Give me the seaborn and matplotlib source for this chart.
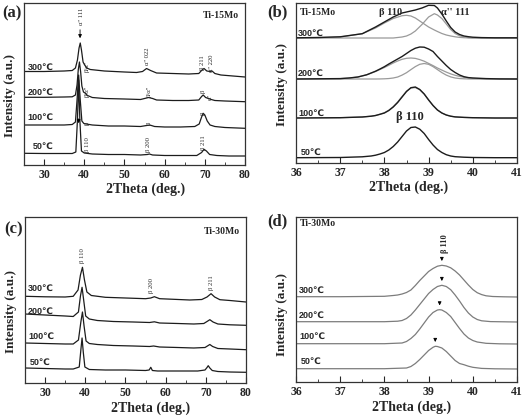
import numpy as np
import seaborn as sns
import matplotlib
matplotlib.use("Agg")
import matplotlib.pyplot as plt
from matplotlib.ticker import MultipleLocator

sns.set_style("ticks")
plt.rcParams["font.family"] = ["Liberation Serif", "DejaVu Serif"]
plt.rcParams["font.weight"] = "bold"
plt.rcParams["axes.labelweight"] = "bold"

temps = ["300℃", "200℃", "100℃", "50℃"]
SANS = ["Liberation Sans", "DejaVu Sans"]

# (a) Ti-15Mo, 25-80 deg scan
a_x_300 = [25, 30, 35, 37, 37.8, 38.3, 38.7, 39.0, 39.3, 39.7, 40.1, 40.6, 41.5, 45, 50, 53,
           54.5, 55.5, 56.5, 58, 62, 66, 68.5, 69.3, 69.8, 70.5, 71.3, 71.8, 72.5, 74, 77, 80]
a_y_300 = [5.5, 5.5, 6, 6.5, 9, 17, 29, 34, 27, 15, 12, 9, 7.5, 6, 5, 4.5,
           5.5, 8.5, 6.5, 4, 3.5, 3, 3.5, 7, 8.5, 6, 5.5, 6, 3.5, 2, 1, 0]
a_x_200 = [25, 30, 35, 37, 37.8, 38.2, 38.5, 38.8, 39.1, 39.4, 39.8, 40.2, 40.8, 42, 45, 50,
           54, 55, 56, 57, 58, 62, 66, 68.5, 69.2, 69.6, 70.2, 70.9, 71.6, 72.5, 75, 80]
a_y_200 = [4.7, 4.7, 5, 5.2, 7, 17, 32, 40, 30, 16, 10, 9, 6.5, 4.5, 3.5, 3,
           2.5, 3.5, 4.5, 3.5, 2, 1.5, 1.5, 2, 5.5, 7, 4.5, 3.5, 2.5, 1.5, 1, 0.3]
a_x_100 = [25, 30, 35, 37, 37.8, 38.2, 38.6, 39.0, 39.4, 39.9, 40.5, 42, 46, 50, 54,
           55.5, 56.3, 57.5, 60, 64, 67.5, 68.6, 69.2, 69.6, 70.0, 70.6, 71.3, 72.5, 75, 80]
a_y_100 = [4, 4, 4, 4.5, 7, 29, 54, 29, 8, 5.5, 5, 4, 3, 3, 2.5,
           3.5, 4, 2.5, 2, 2, 2.5, 5, 12, 15.7, 14, 8, 4, 2.5, 1.5, 0.7]
a_x_50 = [25, 30, 35, 37, 37.9, 38.3, 38.6, 38.9, 39.3, 40, 42, 46, 50, 54,
          55.7, 56.2, 57, 60, 64, 68, 69.2, 69.8, 70.4, 71.2, 73, 76, 80]
a_y_50 = [3.7, 3.5, 3.5, 3.5, 5, 37, 77, 37, 6, 4, 3, 2.5, 2.5, 2,
          2.5, 3, 2, 1.5, 1.5, 1.5, 4.5, 7.7, 6, 2.5, 1.5, 1, 1]
a_offsets = [88, 63, 36, 8]

# (b) Ti-15Mo, beta 110 / alpha'' 111 region with fitted components
b_x_300 = [36, 36.5, 37, 37.5, 37.8, 38.0, 38.2, 38.4, 38.5, 38.6, 38.7, 38.85, 39.0,
           39.13, 39.2, 39.3, 39.4, 39.5, 39.6, 39.7, 39.8, 39.9, 40.0, 40.2, 40.5, 41]
b_y_300 = [0.2, 0.5, 1.2, 4.3, 11, 16, 21, 25, 26, 27, 28, 30, 32.7,
           32.5, 30, 24, 17, 10.5, 6, 3.5, 2, 1.3, 0.8, 0.4, 0.2, 0.2]
b_fit1_300 = [0, 0.3, 1, 4.3, 10, 15, 19.5, 22.3, 22.7, 22, 20, 15.5, 11,
              8, 6.5, 4.5, 3, 2, 1.2, 0.6, 0.3, 0.1, 0, 0, 0, 0]
b_fit2_300 = [0, 0, 0, 0, 0, 0, 0, 1, 2, 4, 7, 13.5, 21,
              24.3, 23, 19.5, 14, 8.5, 4.5, 2.2, 1, 0.4, 0.1, 0, 0, 0]
b_x_200 = [36, 37, 37.2, 37.4, 37.6, 37.8, 37.9, 38.0, 38.1, 38.2, 38.3, 38.4, 38.5, 38.6,
           38.7, 38.8, 38.9, 39.0, 39.1, 39.2, 39.3, 39.4, 39.5, 39.6, 39.7, 39.8, 39.9,
           40.0, 40.3, 40.6, 41]
b_y_200 = [0, 0.4, 1, 2, 4.2, 7.8, 10, 12.3, 15, 17.5, 20, 22.5, 25.5, 28.5,
           30.8, 32, 31.8, 30, 27.5, 22.5, 18, 13.5, 9.5, 6.5, 4, 2.3, 1.4,
           1, 0.4, 0.1, 0]
b_fit1_200 = [0, 0.35, 0.9, 2, 4.3, 7.5, 9.5, 11.5, 13.7, 16, 18, 19.7, 20.7, 21,
              20.6, 19.4, 17.8, 15.6, 13.4, 11, 8.9, 6.9, 5.1, 3.7, 2.6, 1.7, 1.1,
              0.7, 0.15, 0, 0]
b_fit2_200 = [0, 0, 0, 0, 0, 0, 0.06, 0.2, 0.45, 1, 2, 3.9, 6.3, 9.4,
              12.4, 14.7, 15.5, 14.7, 12.4, 9.4, 6.4, 3.9, 2.1, 1, 0.45, 0.2, 0.06,
              0, 0, 0, 0]
b_x_100 = [36, 37, 37.5, 37.7, 37.8, 37.9, 38.0, 38.1, 38.2, 38.3, 38.4, 38.5, 38.6, 38.7,
           38.8, 38.9, 39.0, 39.1, 39.2, 39.3, 39.4, 39.5, 39.6, 39.8, 40.0, 40.5, 41]
b_y_100 = [0, 0.3, 1, 1.8, 2.5, 3.7, 5, 7.5, 11, 15.5, 21, 26.5, 30.3, 31,
           28.5, 24, 18, 12.5, 8, 5, 3, 1.8, 1.1, 0.6, 0.3, 0, 0]
b_fit_100 = [0, 0.3, 1, 1.8, 2.5, 3.8, 5.3, 7.8, 11.4, 16, 21.5, 26.8, 30, 30.4,
             28.3, 24, 18.2, 12.6, 8, 5, 3, 1.8, 1.1, 0.6, 0.3, 0, 0]
b_x_50 = b_x_100
b_y_50 = [0.3, 0.5, 1.2, 2, 2.8, 4, 5.5, 8, 11.5, 16, 21.5, 27, 30.5, 31,
          28.8, 24.5, 18.5, 13, 8.5, 5.5, 3.3, 2, 1.3, 0.8, 0.5, 0.3, 0.3]
b_offsets = [125, 84, 45, 5]

# (c) Ti-30Mo, 25-80 deg scan
c_x_300 = [25, 30, 35, 37, 38.2, 38.8, 39.3, 39.8, 40.4, 41.5, 45, 50, 55, 56.3, 57.2,
           58.5, 62, 66, 69, 70.3, 71.3, 72.2, 73.5, 76, 80]
c_y_300 = [5.7, 5.2, 5, 5.7, 12, 27, 34.7, 22, 10, 6.5, 4.7, 4, 3.3, 4, 5.3,
           3.3, 2.7, 2, 2.5, 5, 8.3, 5, 2.3, 1.5, 0]
c_x_200 = [25, 30, 35, 37, 38.3, 38.8, 39.2, 39.6, 40.1, 41, 43, 47, 52, 56, 57.2,
           58.5, 63, 67, 69.5, 70.3, 71.0, 71.8, 73, 76, 80]
c_y_200 = [12, 11, 10, 9.5, 14, 30, 38.7, 26, 10, 7, 5.5, 4.5, 4, 3.5, 4.2,
           3, 2.5, 2, 2.5, 4.5, 6.3, 4, 2, 1.2, 0.7]
c_x_100 = [25, 30, 35, 37, 38.3, 38.9, 39.3, 39.7, 40.2, 41, 43, 47, 52, 56, 57,
           58.5, 63, 67, 69.8, 70.4, 71.0, 71.7, 73, 76, 80]
c_y_100 = [7, 6.5, 6, 6, 10, 28, 38, 24, 9, 6.5, 5.5, 4.5, 4, 3.5, 4,
           3, 2.5, 2, 2.5, 4, 5.5, 3.5, 1.5, 1, 0.3]
c_x_50 = [25, 30, 35, 37, 38.5, 38.9, 39.2, 39.5, 39.9, 41, 45, 50, 55, 55.9, 56.3,
          56.7, 58, 63, 68, 69.8, 70.3, 70.6, 71.0, 71.6, 73, 76, 80]
c_y_50 = [5, 4.5, 4, 4, 6, 23, 35, 21, 6, 3.5, 3, 3, 2.5, 3, 5.7,
          2.5, 2, 2, 2, 3, 5.5, 7.3, 5, 2.5, 1.5, 1, 0.7]
c_offsets = [81, 57, 33, 10]

# (d) Ti-30Mo, beta 110 region
d_x_300 = [36, 37, 38.0, 38.2, 38.3, 38.4, 38.5, 38.6, 38.7, 38.8, 38.9, 39.0, 39.1, 39.2,
           39.3, 39.4, 39.5, 39.6, 39.7, 39.8, 39.9, 40.0, 40.1, 40.2, 40.3, 40.45, 40.7, 41]
d_y_300 = [0.3, 0.3, 0.7, 1.5, 2, 3, 4.5, 7, 11.5, 16.5, 21, 25.5, 28.5, 30.8,
           31.7, 31, 29.2, 26, 22, 17, 12, 7.5, 4.3, 2.4, 1.2, 0.5, 0.2, 0]
d_x_200 = [36, 37, 38.0, 38.3, 38.4, 38.5, 38.6, 38.7, 38.8, 38.9, 39.0, 39.1, 39.2, 39.3,
           39.4, 39.5, 39.6, 39.7, 39.8, 39.9, 40.0, 40.1, 40.2, 40.4, 41]
d_y_200 = [0.3, 0.3, 0.3, 0.8, 1.5, 3.5, 7, 12, 17.5, 23, 28.5, 32.5, 35.5, 36.7,
           35.5, 32.3, 27, 21, 14.5, 9, 5, 2.5, 1.2, 0.4, 0]
d_x_100 = [36, 37, 38.0, 38.4, 38.5, 38.6, 38.7, 38.8, 38.9, 39.0, 39.1, 39.2, 39.25, 39.3,
           39.4, 39.5, 39.6, 39.7, 39.8, 39.9, 40.0, 40.1, 40.3, 40.6, 41]
d_y_100 = [0.3, 0.3, 0.3, 1, 2.5, 5.5, 9.5, 15, 21, 27, 31.5, 34, 34.3, 34,
           31.5, 27.5, 21.5, 15.5, 10, 6, 3.5, 2, 0.7, 0.2, 0]
d_x_50 = [36, 37, 38.0, 38.5, 38.6, 38.7, 38.8, 38.9, 39.0, 39.1, 39.15, 39.2, 39.3, 39.4,
          39.5, 39.6, 39.7, 39.8, 39.9, 40.0, 40.2, 40.5, 41]
d_y_50 = [0.3, 0.3, 0.3, 1, 2.5, 5.5, 9.5, 14, 18.5, 21.7, 22.7, 22.5, 21, 17.5,
          13, 8.5, 5.5, 4.3, 2.8, 1.7, 0.6, 0.2, 0]
d_offsets = [85, 60, 38, 13]

BLACK = "#1c1c1c"
GRAY = "#9a9a9a"

W, H = 524, 416
fig = plt.figure(figsize=(W / 100, H / 100), dpi=100)


def px_axes(left, top, right, bottom):
    return fig.add_axes([left / W, 1 - bottom / H, (right - left) / W, (bottom - top) / H])


def style(ax, xlim, ylim, major, minor, xl_x, yl_y):
    ax.set_xlim(*xlim)
    ax.set_ylim(*ylim)
    ax.xaxis.set_major_locator(MultipleLocator(major))
    ax.xaxis.set_minor_locator(MultipleLocator(minor))
    ax.set_yticks([])
    ax.tick_params(axis="x", which="both", direction="in", top=False, labelsize=8.5, pad=3)
    ax.tick_params(axis="x", which="major", length=4, width=0.8)
    ax.tick_params(axis="x", which="minor", length=2, width=0.6)
    for s in ax.spines.values():
        s.set_linewidth(0.9)
        s.set_color("#333333")
    ax.set_xlabel("2Theta (deg.)", fontsize=10)
    ax.set_ylabel("Intensity (a.u.)", fontsize=9.5)
    ax.xaxis.set_label_coords(xl_x, -0.11)
    ax.yaxis.set_label_coords(-0.035, yl_y)


def draw(ax, x, y, off, color=BLACK, lw=0.9):
    sns.lineplot(x=x, y=np.asarray(y) + off, ax=ax, color=color, lw=lw,
                 estimator=None, sort=False)


def temp_labels(ax, xs, ys):
    for t, x, y in zip(temps, xs, ys):
        ax.text(x, y, t, fontsize=6.5, family=SANS, va="center", ha="left")


def vlabel(ax, x, y, s, size=4.8, weight="normal"):
    ax.text(x, y, s, rotation=90, fontsize=size, fontweight=weight, ha="center", va="bottom")


# ---- (a)
ax = px_axes(24, 3, 245, 165)
for xs, ys, off in zip([a_x_300, a_x_200, a_x_100, a_x_50],
                       [a_y_300, a_y_200, a_y_100, a_y_50], a_offsets):
    draw(ax, xs, ys, off)
style(ax, (25, 80), (0, 162), 10, 5, 0.55, 0.43)
temp_labels(ax, [25.9, 25.9, 25.9, 27.2], [98, 73, 48, 19])
ax.text(78.5, 150, "Ti-15Mo", fontsize=7, ha="right", va="center")
ax.annotate("", xy=(38.95, a_offsets[0] + max(a_y_300) + 2), xytext=(38.95, 138),
            arrowprops=dict(arrowstyle="-|>", color="k", lw=0.6, mutation_scale=5))
ax.annotate("", xy=(38.6, 39), xytext=(38.6, 49),
            arrowprops=dict(arrowstyle="-|>", color="k", lw=0.6, mutation_scale=5))
vlabel(ax, 39.3, 140, "α'' 111")
vlabel(ax, 40.7, 93, "β/α''")
vlabel(ax, 55.8, 100, "α'' 022")
vlabel(ax, 69.4, 95, "β 211")
vlabel(ax, 71.7, 93, "α'' 220")
vlabel(ax, 40.7, 68, "β/α''")
vlabel(ax, 56.2, 68, "β/α''")
vlabel(ax, 69.5, 72, "β")
vlabel(ax, 71.4, 65, "α''")
vlabel(ax, 40.7, 40, "β")
vlabel(ax, 56.2, 40, "β")
vlabel(ax, 69.6, 50, "β")
vlabel(ax, 40.7, 13, "β 110")
vlabel(ax, 56.0, 13, "β 200")
vlabel(ax, 69.6, 15, "β 211")

# ---- (b)
ax = px_axes(296, 3, 517, 163)
draw(ax, b_x_300, b_fit1_300, b_offsets[0], GRAY, 0.9)
draw(ax, b_x_300, b_fit2_300, b_offsets[0], GRAY, 0.9)
draw(ax, b_x_200, b_fit1_200, b_offsets[1], GRAY, 0.9)
draw(ax, b_x_200, b_fit2_200, b_offsets[1], GRAY, 0.9)
draw(ax, b_x_100, b_fit_100, b_offsets[2], GRAY, 0.9)
for xs, ys, off in zip([b_x_300, b_x_200, b_x_100, b_x_50],
                       [b_y_300, b_y_200, b_y_100, b_y_50], b_offsets):
    draw(ax, xs, ys, off, BLACK, 1.0)
style(ax, (36, 41), (0, 160), 1, 0.5, 0.51, 0.49)
temp_labels(ax, [36.05, 36.05, 36.05, 36.1], [130, 90, 50, 11])
ax.text(36.09, 151, "Ti-15Mo", fontsize=7, ha="left", va="center")
ax.text(38.14, 151, "β 110", fontsize=7.5, ha="center", va="center")
ax.text(39.61, 151, "α'' 111", fontsize=7.5, ha="center", va="center")
ax.text(38.57, 46, "β 110", fontsize=9, ha="center", va="center")

# ---- (c)
ax = px_axes(25, 217, 246, 383)
for xs, ys, off in zip([c_x_300, c_x_200, c_x_100, c_x_50],
                       [c_y_300, c_y_200, c_y_100, c_y_50], c_offsets):
    draw(ax, xs, ys, off)
style(ax, (25, 80), (0, 166), 10, 5, 0.57, 0.43)
temp_labels(ax, [25.8, 25.8, 25.8, 26.2], [95, 72, 47, 21])
ax.text(78.5, 151, "Ti-30Mo", fontsize=7, ha="right", va="center")
vlabel(ax, 39.4, 120, "β 110")
vlabel(ax, 56.6, 90, "β 200")
vlabel(ax, 71.5, 93, "β 211")

# ---- (d)
ax = px_axes(296, 217, 517, 382)
d_xs = [d_x_300, d_x_200, d_x_100, d_x_50]
d_ys = [d_y_300, d_y_200, d_y_100, d_y_50]
for xs, ys, off in zip(d_xs, d_ys, d_offsets):
    draw(ax, xs, ys, off, "#7c7c7c", 0.9)
    i = int(np.argmax(ys))
    top = off + ys[i]
    ax.annotate("", xy=(xs[i], top + 1.5), xytext=(xs[i], top + 10),
                arrowprops=dict(arrowstyle="-|>", color="k", lw=0.6, mutation_scale=5))
style(ax, (36, 41), (0, 165), 1, 0.5, 0.525, 0.41)
temp_labels(ax, [36.07, 36.07, 36.07, 36.1], [92, 67, 46, 21])
ax.text(36.09, 158, "Ti-30Mo", fontsize=7, ha="left", va="center")
vlabel(ax, 39.37, 129, "β 110", size=6, weight="bold")

# panel letters
for s, x, y in [("(a)", 2, 13), ("(b)", 267, 12), ("(c)", 4, 229), ("(d)", 267, 221)]:
    fig.text(x / W, 1 - y / H, s, fontsize=12, va="center", ha="left")

fig.savefig("out.png", dpi=100)
